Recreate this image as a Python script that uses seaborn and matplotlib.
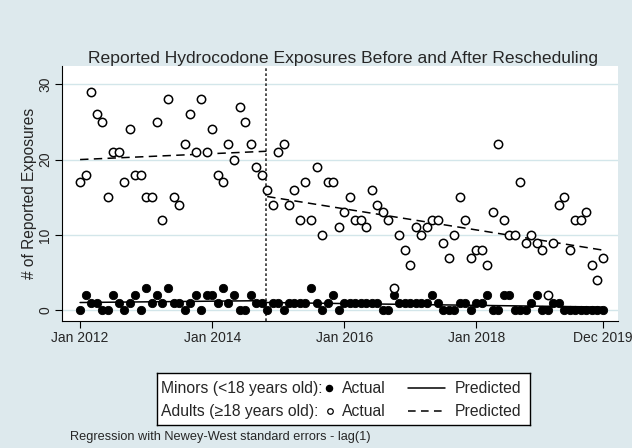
import pandas as pd
import numpy as np
import matplotlib.pyplot as plt
from matplotlib.lines import Line2D
import seaborn as sns

# Monthly reported exposures, Jan 2012 - Dec 2019
minors = [0, 2, 1, 1, 0, 0, 2, 1, 0, 1, 2, 0,
          3, 1, 2, 1, 3, 1, 1, 0, 1, 2, 0, 2,
          2, 1, 3, 1, 2, 0, 0, 2, 1, 1, 0, 1,
          1, 0, 1, 1, 1, 1, 3, 1, 0, 1, 2, 0,
          1, 1, 1, 1, 1, 1, 1, 0, 0, 2, 1, 1,
          1, 1, 1, 1, 2, 1, 0, 0, 0, 1, 1, 0,
          1, 1, 2, 0, 0, 2, 2, 0, 0, 0, 1, 2,
          0, 0, 1, 1, 0, 0, 0, 0, 0, 0, 0, 0]
adults = [17, 18, 29, 26, 25, 15, 21, 21, 17, 24, 18, 18,
          15, 15, 25, 12, 28, 15, 14, 22, 26, 21, 28, 21,
          24, 18, 17, 22, 20, 27, 25, 22, 19, 18, 16, 14,
          21, 22, 14, 16, 12, 17, 12, 19, 10, 17, 17, 11,
          13, 15, 12, 12, 11, 16, 14, 13, 12, 3, 10, 8,
          6, 11, 10, 11, 12, 12, 9, 7, 10, 15, 12, 7,
          8, 8, 6, 13, 22, 12, 10, 10, 17, 9, 10, 9,
          8, 2, 9, 14, 15, 8, 12, 12, 13, 6, 4, 7]

# Predicted (segmented regression) end points, before / after rescheduling
resched_date = "2014-10-28"
pred_dates_pre = ["2012-01-01", "2014-10-28"]
pred_dates_post = ["2014-11-01", "2019-12-01"]
minors_pred_pre = [1.05, 1.3]
minors_pred_post = [1.05, 0.45]
adults_pred_pre = [20.0, 21.1]
adults_pred_post = [15.1, 8.0]

tick_dates = ["2012-01-01", "2014-01-01", "2016-01-01", "2018-01-01", "2019-12-01"]
tick_labels = ["Jan 2012", "Jan 2014", "Jan 2016", "Jan 2018", "Dec 2019"]
y_ticks = [0, 10, 20, 30]

BG = "#dde9ed"
GRID = "#d3e6ea"

df = pd.DataFrame({
    "date": pd.date_range("2012-01-01", periods=len(adults), freq="MS"),
    "minors": minors,
    "adults": adults,
})

sns.set_theme(style="white")
plt.rcParams["font.family"] = ["Liberation Sans", "DejaVu Sans"]

fig = plt.figure(figsize=(6.32, 4.48), dpi=100, facecolor=BG)
ax = fig.add_axes([62 / 632, 1 - 321 / 448, (618 - 62) / 632, (321 - 66) / 448])
ax.set_facecolor("white")

for v in y_ticks:
    ax.axhline(v, color=GRID, lw=1.0, zorder=0)

# predicted lines
dash = (0, (5.5, 3.5))
sns.lineplot(x=pd.to_datetime(pred_dates_pre), y=adults_pred_pre, color="black",
             lw=1.1, linestyle=dash, ax=ax)
sns.lineplot(x=pd.to_datetime(pred_dates_post), y=adults_pred_post, color="black",
             lw=1.1, linestyle=dash, ax=ax)
sns.lineplot(x=pd.to_datetime(pred_dates_pre), y=minors_pred_pre, color="black",
             lw=1.1, ax=ax)
sns.lineplot(x=pd.to_datetime(pred_dates_post), y=minors_pred_post, color="black",
             lw=1.1, ax=ax)

# actual counts
sns.scatterplot(data=df, x="date", y="minors", color="black", edgecolor="black",
                s=36, linewidth=0.6, ax=ax, zorder=3)
sns.scatterplot(data=df, x="date", y="adults", color="white", edgecolor="black",
                s=36, linewidth=1.1, ax=ax, zorder=3)

ax.axvline(pd.Timestamp(resched_date), color="#333333", lw=1.2,
           linestyle=(0, (1.6, 1.4)), zorder=2)

ax.set_xlim(pd.Timestamp("2012-01-01") - pd.Timedelta(days=100),
            pd.Timestamp("2012-01-01") + pd.Timedelta(days=2976))
ax.set_ylim(-1.4, 32.4)

ax.set_xticks(pd.to_datetime(tick_dates))
ax.set_xticklabels(tick_labels, fontsize=10)
ax.set_yticks(y_ticks)
ax.set_yticklabels([str(v) for v in y_ticks], fontsize=10, rotation=90, va="center")
ax.tick_params(axis="both", direction="out", length=5, width=0.8, color="black",
               pad=2, left=True, bottom=True)
ax.set_xlabel("")
ax.set_ylabel("# of Reported Exposures", fontsize=11.2, labelpad=1)

for side in ["top", "right"]:
    ax.spines[side].set_visible(False)
for side in ["left", "bottom"]:
    ax.spines[side].set_color("black")
    ax.spines[side].set_linewidth(0.8)

fig.text(343 / 632, 1 - 58 / 448,
         "Reported Hydrocodone Exposures Before and After Rescheduling",
         ha="center", va="center", fontsize=12.6)

# legend box drawn in pixel units
lax = fig.add_axes([157 / 632, 1 - 425 / 448, (530 - 157) / 632, (425 - 373) / 448])
lax.set_xlim(0, 373)
lax.set_ylim(52, 0)
lax.set_facecolor("white")
lax.set_xticks([])
lax.set_yticks([])
for s in lax.spines.values():
    s.set_color("black")
    s.set_linewidth(1.0)

rows = [("Minors (<18 years old):", 15), ("Adults (\u226518 years old):", 38)]
for label, ry in rows:
    lax.text(4, ry, label, fontsize=11.3, va="center", ha="left")
    lax.text(185, ry, "Actual", fontsize=11.3, va="center", ha="left")
    lax.text(298, ry, "Predicted", fontsize=11.3, va="center", ha="left")
lax.add_line(Line2D([172], [15], marker="o", ms=4.4, color="black", ls="none"))
lax.add_line(Line2D([173], [38], marker="o", ms=4.0, mfc="white", mec="black",
                    mew=0.9, ls="none"))
lax.add_line(Line2D([251, 288], [15, 15], color="black", lw=1.1))
lax.add_line(Line2D([251, 288], [38, 38], color="black", lw=1.1, ls=(0, (5, 3.5))))

fig.text(70 / 632, 1 - 437 / 448,
         "Regression with Newey-West standard errors - lag(1)",
         ha="left", va="center", fontsize=9.2)

fig.savefig("out.png", dpi=100, facecolor=BG)
